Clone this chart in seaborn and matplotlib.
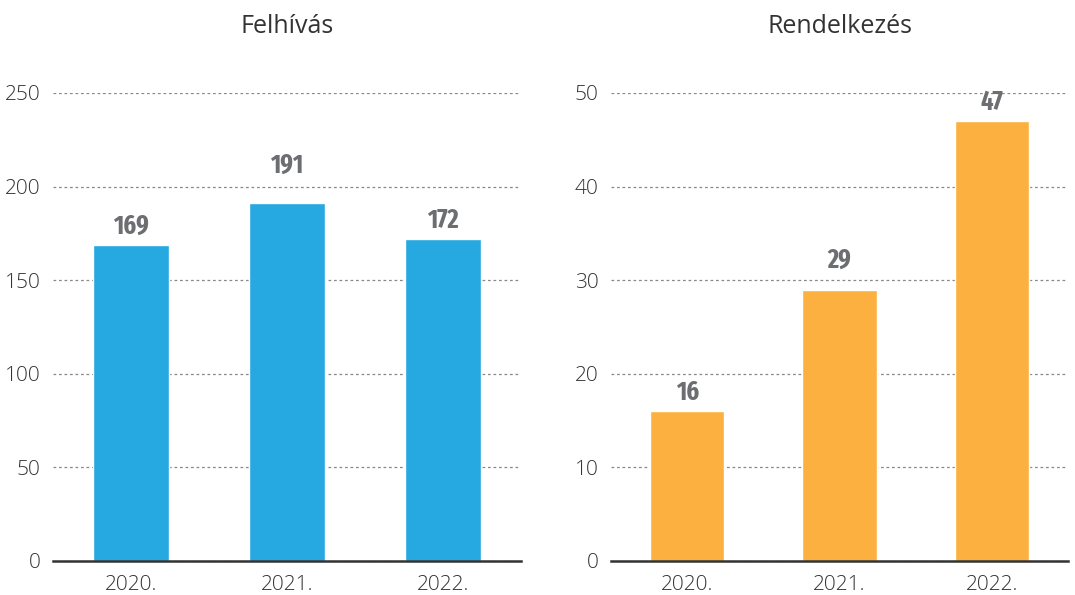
import matplotlib
matplotlib.use("Agg")
import matplotlib.pyplot as plt
import seaborn as sns
import pandas as pd
from matplotlib import font_manager

years = ["2020.", "2021.", "2022."]
felhivas = [169, 191, 172]
rendelkezes = [16, 29, 47]
titles = ["Felhívás", "Rendelkezés"]
yticks_left = [0, 50, 100, 150, 200, 250]
yticks_right = [0, 10, 20, 30, 40, 50]

# extra lift (points) of each value label above its bar
label_lift_left = [4, 18, 4]
label_lift_right = [4, 12, 4]

sns.set_theme(style="white")
plt.rcParams["font.family"] = ["Open Sans", "DejaVu Sans"]

# pick the narrowest heavy face available for the value labels
stretch_rank = {"ultra-condensed": 0, "extra-condensed": 1, "condensed": 2,
                "semi-condensed": 3}
best = None
for f in font_manager.fontManager.ttflist:
    st = str(f.stretch).lower()
    name = f.name.lower()
    if "condensed" in name or "narrow" in name:
        if "extracondensed" in f.fname.lower().replace("-", "").replace("_", ""):
            st = "extra-condensed"
        elif st not in stretch_rank:
            st = "condensed"
    if st not in stretch_rank:
        continue
    w = f.weight if isinstance(f.weight, int) else {"bold": 700, "heavy": 800,
                                                      "black": 900, "semibold": 600,
                                                      "demibold": 600, "extra bold": 800}.get(str(f.weight).lower(), 400)
    if w < 600 or "italic" in str(f.style).lower() or "oblique" in str(f.style).lower():
        continue
    key = (stretch_rank[st], abs(w - 700))
    if best is None or key < best[0]:
        best = (key, f.fname)
if best is not None:
    label_font = font_manager.FontProperties(fname=best[1])
else:
    label_font = font_manager.FontProperties(family="Roboto", weight="bold")
label_font.set_size(19)

fig = plt.figure(figsize=(10.75, 5.95), dpi=100)
ax1 = fig.add_axes([53 / 1075, 1 - 561 / 595, 468 / 1075, 468 / 595])
ax2 = fig.add_axes([611 / 1075, 1 - 561 / 595, 457 / 1075, 468 / 595])

panels = [
    (ax1, felhivas, "#25a9e0", yticks_left, titles[0], label_lift_left),
    (ax2, rendelkezes, "#fbb040", yticks_right, titles[1], label_lift_right),
]

for ax, values, color, ticks, title, lifts in panels:
    df = pd.DataFrame({"year": years, "value": values})
    sns.barplot(data=df, x="year", y="value", color=color, width=0.49,
                saturation=1, ax=ax, zorder=3)
    ax.set_ylim(ticks[0], ticks[-1])
    ax.set_xlim(-0.5, 2.5)
    ax.set_yticks(ticks)
    ax.set_xlabel("")
    ax.set_ylabel("")
    for s in ["top", "right", "left"]:
        ax.spines[s].set_visible(False)
    ax.spines["bottom"].set_color("#333333")
    ax.spines["bottom"].set_linewidth(1.8)
    ax.spines["bottom"].set_zorder(4)
    ax.grid(axis="y", color="#888888", linestyle=(0, (2.2, 2.2)), linewidth=0.9, zorder=0)
    ax.set_axisbelow(True)
    ax.tick_params(axis="both", length=0, labelsize=15, labelcolor="#333333")
    ax.tick_params(axis="y", pad=9)
    ax.tick_params(axis="x", pad=10)
    for lbl in ax.get_yticklabels() + ax.get_xticklabels():
        lbl.set_fontweight("light")
    ax.set_title(title, fontsize=18, color="#333333", pad=43)
    for i, v in enumerate(values):
        ax.annotate(str(v), (i, v), xytext=(0, lifts[i]), textcoords="offset points",
                    ha="center", va="bottom", fontproperties=label_font,
                    color="#6d6e71")

fig.savefig("out.png", dpi=100)
